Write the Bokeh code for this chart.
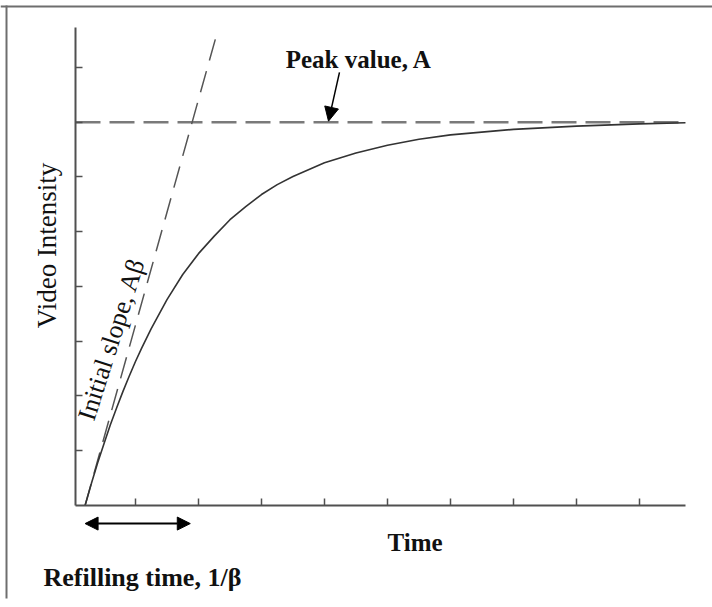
from bokeh.plotting import figure
from bokeh.models import Range1d, FixedTicker, Span, Arrow, NormalHead
from bokeh.core.properties import value
from bokeh.embed import file_html
from bokeh.resources import INLINE

# ---- data (arbitrary units) ----
time_pts = [0.2, 0.3, 0.4, 0.5, 0.6, 0.7, 0.8, 0.9, 1.0, 1.1, 1.25, 1.5, 1.75, 2.0,
            2.25, 2.5, 2.75, 3.0, 3.25, 3.5, 4.0, 4.5, 5.0, 5.5, 6.0, 7.0, 8.0, 9.0, 9.73]
intensity_pts = [0.0, 0.40, 0.78, 1.13, 1.47, 1.78, 2.08, 2.36, 2.63, 2.88, 3.23, 3.76, 4.22, 4.60,
                 4.92, 5.22, 5.46, 5.68, 5.86, 6.01, 6.26, 6.44, 6.58, 6.69, 6.77, 6.87, 6.93, 6.97, 6.99]
peak_value = 7.0
peak_x = [0.048, 9.73]
tangent_x = [0.2, 2.3]
tangent_y = [0.0, 8.65]
refill_start = 0.2
refill_end = 1.87
x_ticks = [1, 2, 3, 4, 5, 6, 7, 8, 9]
y_ticks = [1, 2, 3, 4, 5, 6, 7, 8]
x_axis_bounds = (0.048, 9.73)
y_axis_bounds = (0.0, 8.73)

label_ylabel = "Video Intensity"
label_xlabel = "Time"
label_peak = "Peak value, A"
label_slope = "Initial slope, A\u03b2"
label_refill = "Refilling time, 1/\u03b2"

FONT = value("Liberation Serif")

p = figure(width=712, height=607, output_backend="svg", toolbar_location=None,
           x_range=Range1d(-1.1425, 10.159), y_range=Range1d(-1.863, 9.2237),
           min_border=0)
p.outline_line_color = None
p.grid.visible = False
p.background_fill_color = "white"
p.border_fill_color = "white"

for ax, ticks, loc, bnds in ((p.xaxis[0], x_ticks, 0.0, x_axis_bounds),
                             (p.yaxis[0], y_ticks, 0.048, y_axis_bounds)):
    ax.fixed_location = loc
    ax.bounds = bnds
    ax.ticker = FixedTicker(ticks=ticks)
    ax.major_label_overrides = {t: "" for t in ticks}
    ax.major_label_text_alpha = 0
    ax.major_label_standoff = 0
    ax.major_tick_in = 7
    ax.major_tick_out = 0
    ax.minor_tick_in = 0
    ax.minor_tick_out = 0
    ax.axis_line_color = "#505050"
    ax.axis_line_width = 2
    ax.major_tick_line_color = "#505050"
    ax.major_tick_line_width = 1.5

# outer frame (top and left edges)
p.add_layout(Span(location=9.114, dimension="width", line_color="#6e6e6e", line_width=2))
p.line([-1.0472, -1.0472], [9.132, -1.699], line_color="#6e6e6e", line_width=2)

# peak level dashed line
p.line(peak_x, [peak_value, peak_value], line_color="#7a7a7a", line_width=2.5, line_dash="25 9")
# initial slope dashed line
p.line(tangent_x, tangent_y, line_color="#555555", line_width=1.5, line_dash="22 11")
# response curve
p.line(time_pts, intensity_pts, line_color="#333333", line_width=1.6)

# arrow to the peak line
p.add_layout(Arrow(x_start=4.238, y_start=7.91, x_end=4.064, y_end=peak_value + 0.02,
                   line_color="black", line_width=1.5,
                   end=NormalHead(size=14, fill_color="black", line_color="black")))
# refilling time double arrow
p.add_layout(Arrow(x_start=refill_start, y_start=-0.33, x_end=refill_end, y_end=-0.33,
                   line_color="black", line_width=2,
                   start=NormalHead(size=13, fill_color="black", line_color="black"),
                   end=NormalHead(size=13, fill_color="black", line_color="black")))

# texts
p.text(x=[-0.412], y=[4.75], text=[label_ylabel], angle=90, angle_units="deg",
       text_font=FONT, text_font_size="27px", text_align="center", text_baseline="middle",
       text_color="#111111")
p.text(x=[4.548], y=[8.14], text=[label_peak], text_font=FONT, text_font_size="25px",
       text_font_style="bold", text_align="center", text_baseline="alphabetic", text_color="#111111")
p.text(x=[5.437], y=[-0.67], text=[label_xlabel], text_font=FONT, text_font_size="25px",
       text_font_style="bold", text_align="center", text_baseline="alphabetic", text_color="#111111")
p.text(x=[-0.46], y=[-1.31], text=[label_refill], text_font=FONT, text_font_size="26px",
       text_font_style="bold", text_align="left", text_baseline="alphabetic", text_color="#111111")
p.text(x=[0.62], y=[3.04], text=[label_slope], angle=72.3, angle_units="deg",
       text_font=FONT, text_font_size="26px", text_align="center", text_baseline="middle",
       text_color="#111111")

open("out.html", "w").write(file_html(p, INLINE))
